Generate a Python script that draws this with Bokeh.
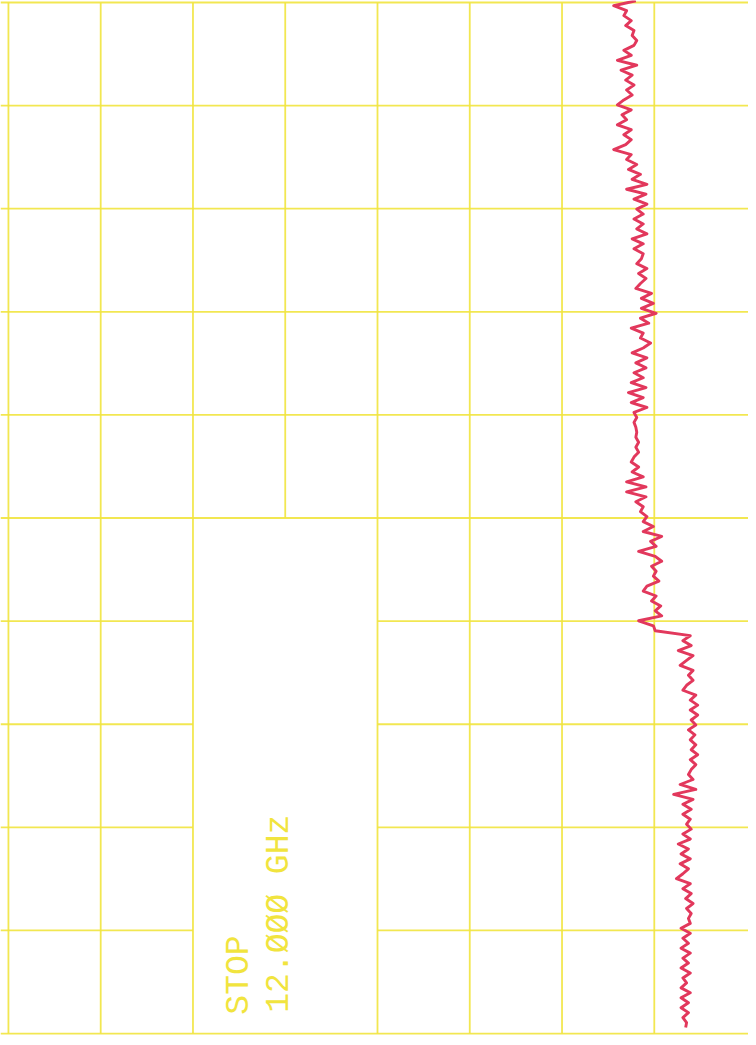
import numpy as np
from bokeh.plotting import figure
from bokeh.models import Range1d
from bokeh.core.properties import value
from bokeh.embed import file_html
from bokeh.resources import INLINE

# ---- data (levels in graticule divisions from the left edge, sweep in GHz) ----
level_seg1 = [6.80, 6.56, 6.70, 6.67, 6.75, 6.69, 6.78, 6.76, 6.81, 6.78,
              6.67, 6.75, 6.60, 6.81, 6.64, 6.76, 6.69, 6.78, 6.70, 6.76,
              6.67, 6.60, 6.75, 6.65, 6.70, 6.60, 6.75, 6.67, 6.75, 6.69,
              6.56, 6.75, 6.70, 6.81, 6.72, 6.85, 6.76, 6.92, 6.70, 6.91,
              6.78, 6.92, 6.81, 6.88, 6.78, 6.88, 6.81, 6.92, 6.76, 6.88,
              6.78, 6.88]
level_seg2 = [6.86, 6.81, 6.92, 6.83, 6.91, 6.85, 6.80, 6.97, 6.86, 6.99,
              6.86, 7.02, 6.85, 6.94, 6.75, 6.88, 6.85, 6.96, 6.88, 6.76,
              6.92, 6.80, 6.91, 6.78, 6.88, 6.75, 6.91, 6.72, 6.88, 6.75,
              6.92, 6.78, 6.81, 6.78, 6.80, 6.81, 6.80, 6.83, 6.80, 6.83,
              6.78, 6.75, 6.83, 6.76, 6.88, 6.70, 6.91, 6.70, 6.91, 6.80,
              6.88, 6.85]
level_seg3 = [6.92, 6.88, 6.99, 6.88, 7.08, 6.96, 7.02, 6.83, 7.01, 7.08,
              6.97, 7.02, 6.99, 7.05, 6.92, 6.88, 7.02, 6.97, 7.07, 7.01,
              7.08, 6.83, 6.99, 7.01, 7.39, 7.31, 7.40, 7.26, 7.42, 7.35,
              7.28, 7.42, 7.37, 7.42, 7.35, 7.31, 7.45, 7.39, 7.47, 7.39,
              7.47, 7.40, 7.45, 7.37, 7.44, 7.39, 7.45, 7.40, 7.47, 7.39,
              7.45, 7.40]
level_seg4 = [7.37, 7.42, 7.28, 7.45, 7.21, 7.42, 7.31, 7.40, 7.31, 7.39,
              7.35, 7.40, 7.31, 7.39, 7.26, 7.37, 7.29, 7.39, 7.28, 7.37,
              7.31, 7.24, 7.39, 7.31, 7.40, 7.34, 7.42, 7.35, 7.40, 7.37,
              7.39, 7.29, 7.39, 7.31, 7.37, 7.29, 7.39, 7.31, 7.37, 7.29,
              7.39, 7.31, 7.35, 7.29, 7.39, 7.29, 7.37, 7.29, 7.37, 7.31,
              7.35, 7.34]
sweep_start_ghz = -0.02
sweep_stop_ghz = 11.93

grid_cols = [0, 1, 2, 3, 4, 5, 6, 7]                     # graticule columns (divisions)
grid_rows = [0.0, 1.2, 2.4, 3.6, 4.8, 6.0, 7.2, 8.4, 9.6, 10.8, 12.0]  # GHz
blank_cols = (2, 4)        # annotation window: no graticule inside
blank_rows = (6.0, 12.0)
label_lines = ["STOP", "12.\u00d8\u00d8\u00d8 GHz"]

level = level_seg1 + level_seg2 + level_seg3 + level_seg4
sweep = np.linspace(sweep_start_ghz, sweep_stop_ghz, len(level))

GRID = "#f1e43e"
TRACE = "#e2385c"

x_start, x_end = -0.086, 8.021
p = figure(width=748, height=1037,
           x_range=Range1d(x_start, x_end), y_range=Range1d(12.046, -0.023),
           x_axis_type=None, y_axis_type=None,
           output_backend="svg", toolbar_location=None, min_border=0)
p.grid.visible = False
p.outline_line_color = None
p.background_fill_color = "white"
p.border_fill_color = "white"

# graticule
x0, y0, x1, y1 = [], [], [], []
for c in grid_cols:
    top, bottom = grid_rows[0], grid_rows[-1]
    if blank_cols[0] < c < blank_cols[1]:
        bottom = blank_rows[0]
    x0.append(c); x1.append(c); y0.append(top); y1.append(bottom)
for r in grid_rows:
    if blank_rows[0] < r < blank_rows[1]:
        x0 += [x_start, blank_cols[1]]; x1 += [blank_cols[0], x_end]
        y0 += [r, r]; y1 += [r, r]
    else:
        x0.append(x_start); x1.append(x_end); y0.append(r); y1.append(r)
p.segment(x0=x0, y0=y0, x1=x1, y1=y1, line_color=GRID, line_width=1.8, line_alpha=0.9)

# trace
p.line(x=level, y=sweep, line_color=TRACE, line_width=2.9, line_join="round")

# annotation (rotated)
p.text(x=[2.509, 2.938], y=[11.78, 11.758], text=label_lines, angle=np.pi / 2,
       text_font=value("Liberation Mono"), text_font_size="33px",
       text_color=GRID, text_align="left", text_baseline="alphabetic")

open("out.html", "w").write(file_html(p, INLINE))
